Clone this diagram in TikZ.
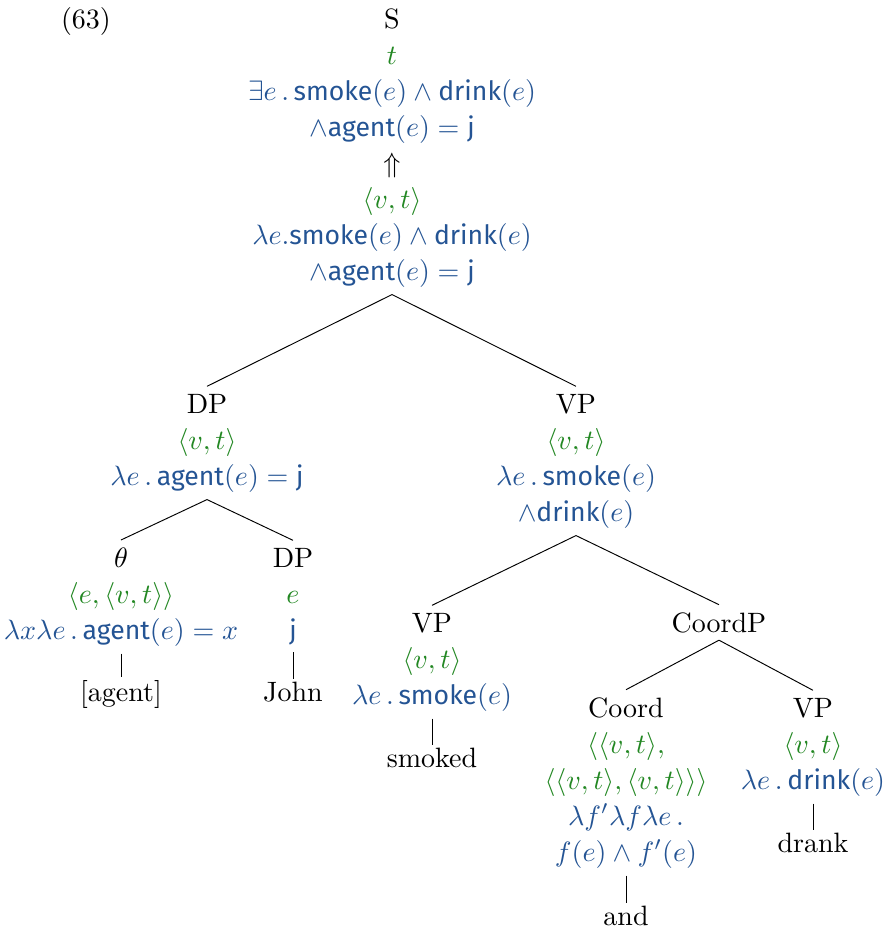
\documentclass[tikz,border=0pt]{standalone}
\usepackage{fontspec}
\setsansfont{Fira Sans}[Scale=0.95]
\definecolor{tgreen}{RGB}{34,135,34}
\definecolor{tblue}{RGB}{36,84,148}
\newcommand{\tyc}[1]{\textcolor{tgreen}{$#1$}}
\newcommand{\semc}[1]{\textcolor{tblue}{$#1$}}
\newcommand{\pr}[1]{\textsf{#1}}
\begin{document}
\begin{tikzpicture}[x=0.35714pt,y=-0.35714pt,
  tn/.style={anchor=base,align=center,inner xsep=0pt,inner ysep=2.5pt,
    font=\fontsize{10}{12.857}\selectfont},
  leaf/.style={tn,inner ysep=0.8pt},
  edge/.style={draw=black,line width=0.34pt}]
\useasboundingbox (0,0) rectangle (889,929);
\node[tn] (ex) at (86,28) {(63)};
\node[tn] (root) at (392,280) {S\\\tyc{t}\\\semc{\exists e\,.\,\pr{smoke}(e)\wedge\pr{drink}(e)}\\\semc{\wedge\pr{agent}(e)=\pr{j}}\\$\Uparrow$\\\tyc{\langle v,t\rangle}\\\semc{\lambda e.\pr{smoke}(e)\wedge\pr{drink}(e)}\\\semc{\wedge\pr{agent}(e)=\pr{j}}};
\node[tn] (dp) at (207,485) {DP\\\tyc{\langle v,t\rangle}\\\semc{\lambda e\,.\,\pr{agent}(e)=\pr{j}}};
\node[tn] (vp) at (576,521) {VP\\\tyc{\langle v,t\rangle}\\\semc{\lambda e\,.\,\pr{smoke}(e)}\\\semc{\wedge\pr{drink}(e)}};
\node[tn] (theta) at (121,639) {$\theta$\\\tyc{\langle e,\langle v,t\rangle\rangle}\\\semc{\lambda x\lambda e\,.\,\pr{agent}(e)=x}};
\node[tn] (dpj) at (293,639) {DP\\\tyc{e}\\\semc{\pr{j}}};
\node[leaf] (agent) at (121,701) {[agent]};
\node[leaf] (john) at (293,701) {John};
\node[tn] (vps) at (432,704) {VP\\\tyc{\langle v,t\rangle}\\\semc{\lambda e\,.\,\pr{smoke}(e)}};
\node[leaf] (smoked) at (432,767) {smoked};
\node[tn] (coordp) at (719,632) {CoordP};
\node[tn] (coord) at (626,861) {Coord\\\tyc{\langle\langle v,t\rangle,}\\\tyc{\langle\langle v,t\rangle,\langle v,t\rangle\rangle\rangle}\\\semc{\lambda f'\lambda f\lambda e\,.}\\\semc{f(e)\wedge f'(e)}};
\node[leaf] (and) at (626,925) {and};
\node[tn] (vpd) at (813,789) {VP\\\tyc{\langle v,t\rangle}\\\semc{\lambda e\,.\,\pr{drink}(e)}};
\node[leaf] (drank) at (813,852) {drank};
\draw[edge] (root.south) -- (dp.north);
\draw[edge] (root.south) -- (vp.north);
\draw[edge] (dp.south) -- (theta.north);
\draw[edge] (dp.south) -- (dpj.north);
\draw[edge] (theta.south) -- (agent.north);
\draw[edge] (dpj.south) -- (john.north);
\draw[edge] (vp.south) -- (vps.north);
\draw[edge] (vp.south) -- (coordp.north);
\draw[edge] (vps.south) -- (smoked.north);
\draw[edge] (coordp.south) -- (coord.north);
\draw[edge] (coordp.south) -- (vpd.north);
\draw[edge] (coord.south) -- (and.north);
\draw[edge] (vpd.south) -- (drank.north);
\end{tikzpicture}
\end{document}
